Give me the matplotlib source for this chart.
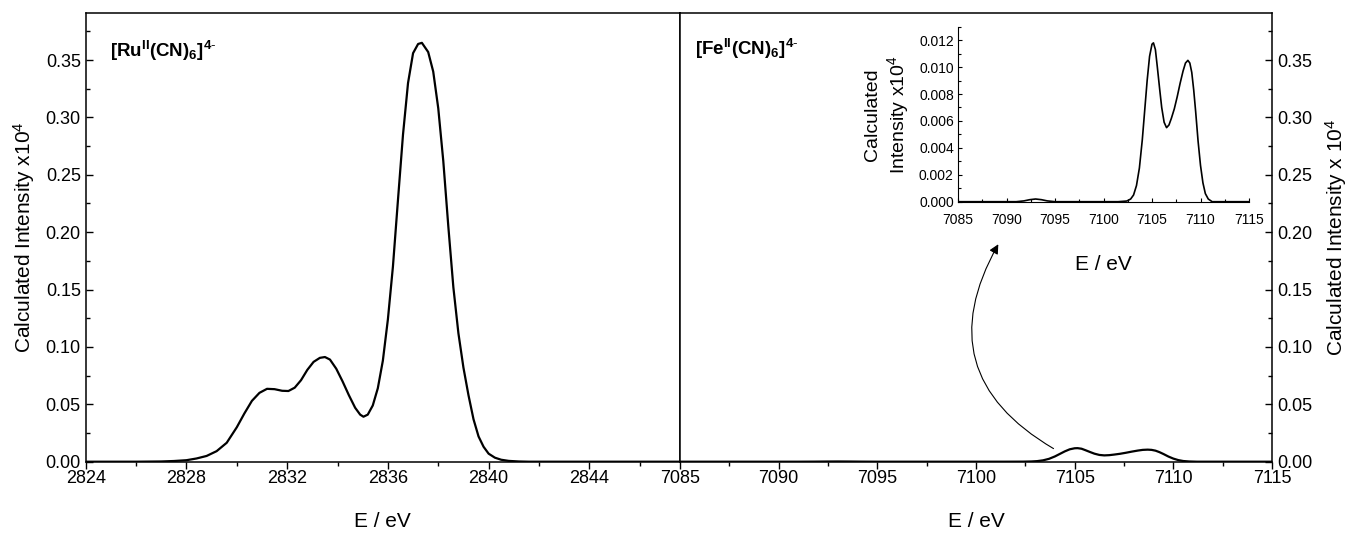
import numpy as np
import matplotlib.pyplot as plt
from matplotlib.ticker import MultipleLocator, FormatStrFormatter

plt.rcParams['font.family'] = ['Liberation Sans', 'DejaVu Sans']
plt.rcParams['mathtext.fontset'] = 'custom'
plt.rcParams['mathtext.rm'] = 'Liberation Sans'
plt.rcParams['mathtext.bf'] = 'Liberation Sans:bold'
plt.rcParams['mathtext.default'] = 'regular'

# Ru K-edge (calculated)
ru_e = [2824.0, 2826.0, 2827.0, 2827.5, 2828.0, 2828.4, 2828.8, 2829.2, 2829.6, 2830.0,
        2830.3, 2830.6, 2830.9, 2831.2, 2831.5, 2831.8, 2832.05, 2832.3, 2832.55, 2832.8,
        2833.05, 2833.3, 2833.5, 2833.7, 2833.95, 2834.2, 2834.45, 2834.7, 2834.9, 2835.03,
        2835.2, 2835.4, 2835.6, 2835.8, 2836.0, 2836.2, 2836.4, 2836.6, 2836.8, 2837.0,
        2837.2, 2837.35, 2837.6, 2837.8, 2838.0, 2838.2, 2838.4, 2838.6, 2838.8, 2839.0,
        2839.2, 2839.4, 2839.6, 2839.8, 2840.0, 2840.25, 2840.5, 2840.8, 2841.2, 2841.6,
        2843.0, 2847.6]
ru_i = [0.0, 0.0, 0.0002, 0.0006, 0.0013, 0.0028, 0.0050, 0.0092, 0.0165, 0.030,
        0.042, 0.053, 0.060, 0.0635, 0.0632, 0.0618, 0.0616, 0.0645, 0.071, 0.080,
        0.087, 0.0905, 0.0912, 0.089, 0.081, 0.070, 0.058, 0.047, 0.041, 0.0392,
        0.041, 0.049, 0.064, 0.088, 0.124, 0.170, 0.228, 0.285, 0.330, 0.356,
        0.364, 0.365, 0.357, 0.340, 0.308, 0.262, 0.205, 0.152, 0.112, 0.082,
        0.058, 0.037, 0.022, 0.013, 0.007, 0.0035, 0.0017, 0.0007, 0.0002, 0.0,
        0.0, 0.0]

# Fe K-edge (calculated)
fe_e = [7085.0, 7091.0, 7091.8, 7092.4, 7093.0, 7093.6, 7094.2, 7095.0, 7101.5, 7102.4,
        7102.8, 7103.1, 7103.4, 7103.7, 7104.0, 7104.25, 7104.5, 7104.75, 7105.0, 7105.15,
        7105.35, 7105.55, 7105.8, 7106.0, 7106.25, 7106.5, 7106.75, 7107.0, 7107.3, 7107.6,
        7107.9, 7108.2, 7108.45, 7108.7, 7108.9, 7109.1, 7109.3, 7109.5, 7109.75, 7110.0,
        7110.25, 7110.5, 7110.8, 7111.2, 7115.0]
fe_i = [0.0, 0.0, 0.00006, 0.00015, 0.0002, 0.00015, 0.00006, 0.0, 0.0, 0.00005,
        0.0002, 0.0005, 0.0012, 0.0025, 0.0046, 0.0068, 0.0090, 0.0108, 0.0117, 0.0118,
        0.0113, 0.0100, 0.0083, 0.0070, 0.0059, 0.0055, 0.0057, 0.0062, 0.0069, 0.0078,
        0.0088, 0.0097, 0.0103, 0.0105, 0.0103, 0.0096, 0.0083, 0.0067, 0.0045, 0.0027,
        0.0014, 0.0006, 0.0002, 0.0, 0.0]

W, H = 1349, 534
fig = plt.figure(figsize=(W / 100, H / 100), dpi=100)
axL = fig.add_axes([85.7 / W, 72.3 / H, (680 - 85.7) / W, 448.7 / H])
axR = fig.add_axes([680 / W, 72.3 / H, (1272 - 680) / W, 448.7 / H])

for ax in (axL, axR):
    for s in ax.spines.values():
        s.set_linewidth(1.1)
    ax.set_ylim(0, 0.391)
    ax.yaxis.set_major_locator(MultipleLocator(0.05))
    ax.yaxis.set_minor_locator(MultipleLocator(0.025))
    ax.yaxis.set_major_formatter(FormatStrFormatter('%.2f'))
    ax.tick_params(axis='x', which='major', direction='out', length=5, width=1.0, labelsize=13, pad=1)
    ax.tick_params(axis='x', which='minor', direction='out', length=3, width=1.0)
    ax.tick_params(axis='y', which='major', direction='in', length=5, width=1.0, labelsize=13)
    ax.tick_params(axis='y', which='minor', direction='in', length=3, width=1.0)
    ax.set_xlabel('E / eV', fontsize=15, labelpad=18)

axL.plot(ru_e, ru_i, color='black', lw=1.6)
axL.set_xlim(2824, 2847.6)
axL.xaxis.set_major_locator(MultipleLocator(4))
axL.xaxis.set_minor_locator(MultipleLocator(2))
axL.set_ylabel('Calculated Intensity x10$^4$', fontsize=15, labelpad=6)
axL.text(0.041, 0.902, r'$\mathbf{[Ru^{II}(CN)_6]^{4\text{-}}}$', transform=axL.transAxes,
         fontsize=13.5, va='baseline')

axR.plot(fe_e, fe_i, color='black', lw=1.6)
axR.set_xlim(7085, 7115)
axR.xaxis.set_major_locator(MultipleLocator(5))
axR.xaxis.set_minor_locator(MultipleLocator(2.5))
axR.yaxis.tick_right()
axR.yaxis.set_label_position('right')
axR.set_ylabel('Calculated Intensity x 10$^4$', fontsize=15, labelpad=8)
axR.text(0.025, 0.906, r'$\mathbf{[Fe^{II}(CN)_6]^{4\text{-}}}$', transform=axR.transAxes,
         fontsize=13.5, va='baseline')

axR.annotate('', xy=(7101.2, 0.1916), xytext=(7104.05, 0.0102),
             arrowprops=dict(arrowstyle='-|>', connectionstyle='arc3,rad=-0.5',
                             lw=0.8, color='black', mutation_scale=14))

# inset
axI = fig.add_axes([958 / W, (H - 201.7) / H, (1249 - 958) / W, 175 / H])
axI.plot(fe_e, fe_i, color='black', lw=1.2)
axI.set_xlim(7085, 7115)
axI.set_ylim(0, 0.013)
axI.spines['top'].set_visible(False)
axI.spines['right'].set_visible(False)
axI.xaxis.set_major_locator(MultipleLocator(5))
axI.xaxis.set_minor_locator(MultipleLocator(2.5))
axI.yaxis.set_major_locator(MultipleLocator(0.002))
axI.yaxis.set_minor_locator(MultipleLocator(0.001))
axI.yaxis.set_major_formatter(FormatStrFormatter('%.3f'))
axI.tick_params(which='major', direction='in', length=3, width=0.8, labelsize=10, pad=3)
axI.tick_params(axis='x', which='major', pad=8)
axI.tick_params(which='minor', direction='in', length=2, width=0.8)
axI.set_xlabel('E / eV', fontsize=15, labelpad=20)
axI.set_ylabel('Calculated\nIntensity x10$^4$', fontsize=14, labelpad=6)

fig.savefig('out.png', dpi=100)
